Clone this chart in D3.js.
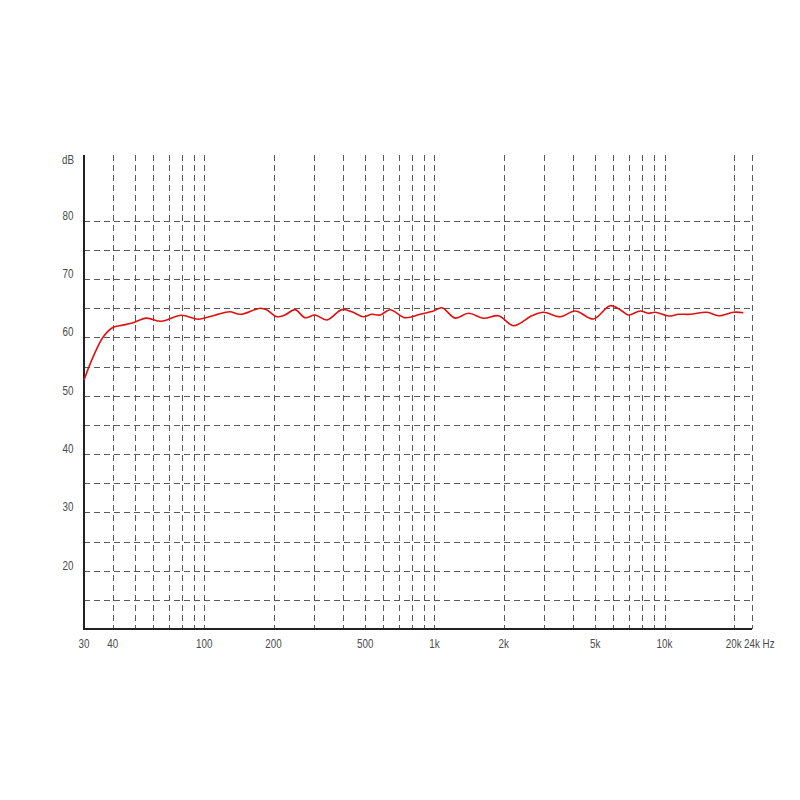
<!DOCTYPE html>
<html>
<head>
<meta charset="utf-8">
<script src="https://cdn.jsdelivr.net/npm/d3@7"></script>
<style>
  html, body { margin: 0; padding: 0; background: #fff; }
  svg text { font-family: "Liberation Sans", Arial, sans-serif; fill: #4a4a4a; font-size: 12px; }
</style>
</head>
<body>
<svg id="chart" width="800" height="800"></svg>
<script>
// Frequency response (Hz) and level (dB)
const freqs = [30, 32.9, 36.4, 40, 44.3, 49, 56, 65, 79.6, 94, 111, 129, 143, 175, 187, 207, 224, 248, 274, 303, 341, 396, 437, 491, 535, 581, 642, 746, 867, 991, 1078, 1231, 1406, 1634, 1899, 2207, 2653, 2979, 3522, 4093, 4915, 5809, 6532, 6978, 7845, 8522, 9115, 10413, 11509, 12940, 15297, 17175, 19958, 22000];
const levels = [52.7, 56.7, 60.1, 61.7, 62.1, 62.5, 63.3, 62.75, 63.8, 63.1, 63.8, 64.4, 63.95, 64.98, 64.69, 63.54, 63.83, 64.75, 63.37, 63.83, 62.98, 64.75, 64.4, 63.54, 63.95, 63.83, 64.74, 63.37, 63.95, 64.52, 65.08, 63.3, 64.12, 63.27, 63.71, 62.0, 63.71, 64.3, 63.54, 64.52, 63.15, 65.43, 64.52, 63.83, 64.52, 64.12, 64.3, 63.66, 63.95, 63.95, 64.3, 63.71, 64.3, 64.23];

const xTickValues = [30, 40, 100, 200, 500, 1000, 2000, 5000, 10000, 20000, 24000];
const xTickLabels = ["30", "40", "100", "200", "500", "1k", "2k", "5k", "10k", "20k", "24k Hz"];
const xGridValues = [40, 50, 60, 70, 80, 90, 100, 200, 300, 400, 500, 600, 700, 800, 900, 1000, 2000, 3000, 4000, 5000, 6000, 7000, 8000, 9000, 10000, 20000, 24000];
const yTickValues = [20, 30, 40, 50, 60, 70, 80];
const yGridValues = [15, 20, 25, 30, 35, 40, 45, 50, 55, 60, 65, 70, 75, 80];

const svg = d3.select("#chart");
const pLeft = 84, pRight = 752, pTop = 155, pBottom = 629;
const narrow = 0.82;

const x = d3.scaleLog().domain([30, 24000]).range([pLeft, pRight]);
const y = d3.scaleLinear().domain([10, 10 + (pBottom - pTop) / 5.833]).range([pBottom, pTop]);

const grid = svg.append("g");
grid.selectAll("line.h").data(yGridValues).enter().append("line")
  .attr("x1", pLeft).attr("x2", pRight)
  .attr("y1", d => Math.round(y(d)) + 0.5).attr("y2", d => Math.round(y(d)) + 0.5)
  .attr("stroke", "#5a5a5a").attr("stroke-width", 1).attr("stroke-dasharray", "6,4");
grid.selectAll("line.v").data(xGridValues).enter().append("line")
  .attr("x1", d => Math.round(x(d)) + 0.5).attr("x2", d => Math.round(x(d)) + 0.5)
  .attr("y1", pTop).attr("y2", pBottom)
  .attr("stroke", "#5a5a5a").attr("stroke-width", 1).attr("stroke-dasharray", "6,4");

// axes lines
svg.append("line").attr("x1", pLeft).attr("x2", pLeft).attr("y1", pTop).attr("y2", pBottom + 1)
  .attr("stroke", "#222").attr("stroke-width", 2);
svg.append("line").attr("x1", pLeft).attr("x2", pRight).attr("y1", pBottom).attr("y2", pBottom)
  .attr("stroke", "#222").attr("stroke-width", 2);

// y labels
svg.append("g").selectAll("text").data(yTickValues).enter().append("text")
  .attr("transform", d => `translate(68,${y(d) - 1}) scale(${narrow},1)`)
  .attr("text-anchor", "middle")
  .text(d => d);
svg.append("text").attr("transform", `translate(68,163.5) scale(${narrow},1)`)
  .attr("text-anchor", "middle").text("dB");

// x labels
svg.append("g").selectAll("text").data(xTickValues).enter().append("text")
  .attr("transform", (d, i) => `translate(${i === xTickValues.length - 1 ? x(d) - 8 : x(d)},647.5) scale(${narrow},1)`)
  .attr("text-anchor", (d, i) => i === xTickValues.length - 1 ? "start" : "middle")
  .text((d, i) => xTickLabels[i]);

// curve
const data = freqs.map((f, i) => [f, levels[i]]);
const line = d3.line().x(d => x(d[0])).y(d => y(d[1])).curve(d3.curveCatmullRom.alpha(0.5));
svg.append("path").datum(data).attr("d", line)
  .attr("fill", "none").attr("stroke", "#e01010").attr("stroke-width", 1.6);
</script>
</body>
</html>
